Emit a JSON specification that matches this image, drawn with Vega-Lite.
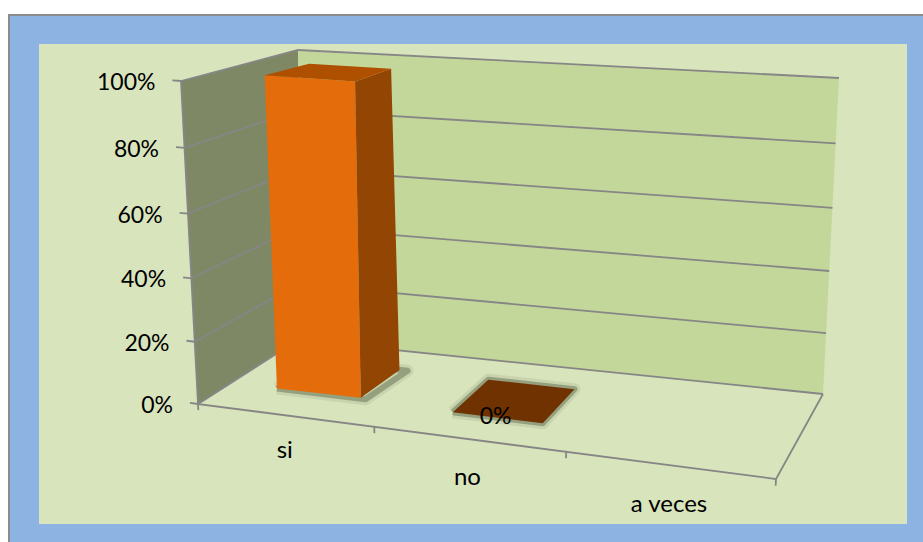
{"$schema":"https://vega.github.io/schema/vega-lite/v6.json","width":914,"height":527,"autosize":"none","padding":{"left":9,"top":15,"right":0,"bottom":0},"background":"#ffffff","view":{"stroke":null},
"data":{"values":[
{"part":"frame"},{"part":"panel"},
{"part":"wall","face":"left","corner":1,"u":0,"d":0,"pct":0},{"part":"wall","face":"left","corner":2,"u":0,"d":1,"pct":0},{"part":"wall","face":"left","corner":3,"u":0,"d":1,"pct":100},{"part":"wall","face":"left","corner":4,"u":0,"d":0,"pct":100},
{"part":"wall","face":"back","corner":1,"u":0,"d":1,"pct":0},{"part":"wall","face":"back","corner":2,"u":1,"d":1,"pct":0},{"part":"wall","face":"back","corner":3,"u":1,"d":1,"pct":100},{"part":"wall","face":"back","corner":4,"u":0,"d":1,"pct":100},
{"part":"grid","face":"g0","corner":1,"u":-0.014,"d":0,"pct":0},{"part":"grid","face":"g0","corner":2,"u":0,"d":0,"pct":0},{"part":"grid","face":"g0","corner":3,"u":0,"d":1,"pct":0},{"part":"grid","face":"g0","corner":4,"u":1,"d":1,"pct":0},
{"part":"grid","face":"g20","corner":1,"u":-0.014,"d":0,"pct":20},{"part":"grid","face":"g20","corner":2,"u":0,"d":0,"pct":20},{"part":"grid","face":"g20","corner":3,"u":0,"d":1,"pct":20},{"part":"grid","face":"g20","corner":4,"u":1,"d":1,"pct":20},
{"part":"grid","face":"g40","corner":1,"u":-0.014,"d":0,"pct":40},{"part":"grid","face":"g40","corner":2,"u":0,"d":0,"pct":40},{"part":"grid","face":"g40","corner":3,"u":0,"d":1,"pct":40},{"part":"grid","face":"g40","corner":4,"u":1,"d":1,"pct":40},
{"part":"grid","face":"g60","corner":1,"u":-0.014,"d":0,"pct":60},{"part":"grid","face":"g60","corner":2,"u":0,"d":0,"pct":60},{"part":"grid","face":"g60","corner":3,"u":0,"d":1,"pct":60},{"part":"grid","face":"g60","corner":4,"u":1,"d":1,"pct":60},
{"part":"grid","face":"g80","corner":1,"u":-0.014,"d":0,"pct":80},{"part":"grid","face":"g80","corner":2,"u":0,"d":0,"pct":80},{"part":"grid","face":"g80","corner":3,"u":0,"d":1,"pct":80},{"part":"grid","face":"g80","corner":4,"u":1,"d":1,"pct":80},
{"part":"grid","face":"g100","corner":1,"u":-0.014,"d":0,"pct":100},{"part":"grid","face":"g100","corner":2,"u":0,"d":0,"pct":100},{"part":"grid","face":"g100","corner":3,"u":0,"d":1,"pct":100},{"part":"grid","face":"g100","corner":4,"u":1,"d":1,"pct":100},
{"part":"grid","face":"edge","corner":1,"u":0,"d":0,"pct":0},{"part":"grid","face":"edge","corner":2,"u":0,"d":0,"pct":100},
{"part":"grid","face":"floor","corner":1,"u":0,"d":0,"pct":-2},{"part":"grid","face":"floor","corner":2,"u":0,"d":0,"pct":0},{"part":"grid","face":"floor","corner":3,"u":0.305,"d":0,"pct":0},{"part":"grid","face":"floor","corner":4,"u":0.305,"d":0,"pct":-2},{"part":"grid","face":"floor","corner":5,"u":0.305,"d":0,"pct":0},{"part":"grid","face":"floor","corner":6,"u":0.637,"d":0,"pct":0},{"part":"grid","face":"floor","corner":7,"u":0.637,"d":0,"pct":-2},{"part":"grid","face":"floor","corner":8,"u":0.637,"d":0,"pct":0},{"part":"grid","face":"floor","corner":9,"u":1,"d":0,"pct":0},{"part":"grid","face":"floor","corner":10,"u":1,"d":0,"pct":-2},{"part":"grid","face":"floor","corner":11,"u":1,"d":0,"pct":0},{"part":"grid","face":"floor","corner":12,"u":1,"d":1,"pct":0},
{"part":"shadow","category":"si","face":"si shadow","corner":1,"u":0.082,"d":0.33,"pct":0},{"part":"shadow","category":"si","face":"si shadow","corner":2,"u":0.24,"d":0.33,"pct":0},{"part":"shadow","category":"si","face":"si shadow","corner":3,"u":0.25,"d":0.75,"pct":0},{"part":"shadow","category":"si","face":"si shadow","corner":4,"u":0.09,"d":0.75,"pct":0},{"part":"shadow","category":"si","face":"si shadow","corner":5,"u":0.082,"d":0.33,"pct":0},
{"part":"shadow","category":"no","face":"no shadow","corner":1,"u":0.4,"d":0.3,"pct":0},{"part":"shadow","category":"no","face":"no shadow","corner":2,"u":0.56,"d":0.3,"pct":0},{"part":"shadow","category":"no","face":"no shadow","corner":3,"u":0.56,"d":0.75,"pct":0},{"part":"shadow","category":"no","face":"no shadow","corner":4,"u":0.4,"d":0.75,"pct":0},{"part":"shadow","category":"no","face":"no shadow","corner":5,"u":0.4,"d":0.3,"pct":0},
{"part":"bar","category":"si","value":100,"face":"si front","corner":1,"u":0.082,"d":0.33,"pct":0},{"part":"bar","category":"si","value":100,"face":"si front","corner":2,"u":0.23,"d":0.34,"pct":0},{"part":"bar","category":"si","value":100,"face":"si front","corner":3,"u":0.235,"d":0.3,"pct":100},{"part":"bar","category":"si","value":100,"face":"si front","corner":4,"u":0.082,"d":0.3,"pct":100},
{"part":"bar","category":"si","value":100,"face":"si side","corner":1,"u":0.23,"d":0.34,"pct":0},{"part":"bar","category":"si","value":100,"face":"si side","corner":2,"u":0.235,"d":0.75,"pct":0},{"part":"bar","category":"si","value":100,"face":"si side","corner":3,"u":0.235,"d":0.66,"pct":100},{"part":"bar","category":"si","value":100,"face":"si side","corner":4,"u":0.235,"d":0.3,"pct":100},
{"part":"bar","category":"si","value":100,"face":"si top","corner":1,"u":0.082,"d":0.3,"pct":100},{"part":"bar","category":"si","value":100,"face":"si top","corner":2,"u":0.235,"d":0.3,"pct":100},{"part":"bar","category":"si","value":100,"face":"si top","corner":3,"u":0.235,"d":0.66,"pct":100},{"part":"bar","category":"si","value":100,"face":"si top","corner":4,"u":0.09,"d":0.66,"pct":100},
{"part":"bar","category":"no","value":0,"face":"no top","corner":1,"u":0.4,"d":0.3,"pct":0},{"part":"bar","category":"no","value":0,"face":"no top","corner":2,"u":0.56,"d":0.3,"pct":0},{"part":"bar","category":"no","value":0,"face":"no top","corner":3,"u":0.56,"d":0.75,"pct":0},{"part":"bar","category":"no","value":0,"face":"no top","corner":4,"u":0.4,"d":0.75,"pct":0},
{"part":"yaxis","label":"0%","u":-0.014,"d":0,"pct":0},{"part":"yaxis","label":"20%","u":-0.014,"d":0,"pct":20},{"part":"yaxis","label":"40%","u":-0.014,"d":0,"pct":40},{"part":"yaxis","label":"60%","u":-0.014,"d":0,"pct":60},{"part":"yaxis","label":"80%","u":-0.014,"d":0,"pct":80},{"part":"yaxis","label":"100%","u":-0.014,"d":0,"pct":100},
{"part":"xaxis","label":"si","u":0.148,"d":0,"pct":-11},{"part":"xaxis","label":"no","u":0.466,"d":0,"pct":-11.5},{"part":"xaxis","label":"a veces","u":0.817,"d":0,"pct":-11.5},
{"part":"datalabel","label":"0%","u":0.476,"d":0.3,"pct":0}
]},
"transform":[
{"calculate":"datum.pct/100-0.045*(datum.pct/100)*(1-datum.pct/100)","as":"h"},
{"calculate":"(1-datum.d)*(198+578*datum.u)+datum.d*(298+525*datum.u)","as":"bx"},
{"calculate":"(1-datum.d)*(404+75*datum.u)+datum.d*(340+54*datum.u)","as":"by"},
{"calculate":"(1-datum.d)*(181+613*datum.u)+datum.d*(298+541*datum.u)","as":"tx"},
{"calculate":"(1-datum.d)*(81+48*datum.u)+datum.d*(50+28*datum.u)","as":"ty"},
{"calculate":"datum.bx+(datum.tx-datum.bx)*datum.h","as":"sx"},
{"calculate":"datum.by+(datum.ty-datum.by)*datum.h","as":"sy"}
],
"encoding":{
"x":{"field":"sx","type":"quantitative","scale":{"domain":[9,923],"zero":false,"nice":false},"axis":null},
"y":{"field":"sy","type":"quantitative","scale":{"domain":[542,15],"zero":false,"nice":false},"axis":null}
},
"layer":[
{"transform":[{"filter":"datum.part=='frame'"}],"mark":{"type":"rect","fill":"#8DB3E2","stroke":"#8C8C8C","strokeWidth":2},"encoding":{"x":{"value":0},"x2":{"value":930},"y":{"value":0},"y2":{"value":540}}},
{"transform":[{"filter":"datum.part=='panel'"}],"mark":{"type":"rect","fill":"#D8E4BC"},"encoding":{"x":{"value":30},"x2":{"value":898},"y":{"value":29},"y2":{"value":509}}},
{"transform":[{"filter":"datum.part=='wall'"}],"mark":{"type":"line","strokeWidth":0},"encoding":{"detail":{"field":"face"},"order":{"field":"corner"},"fill":{"field":"face","type":"nominal","scale":{"domain":["left","back","si front","si side","si top","no top"],"range":["#7E8865","#C4D79B","#E46C0A","#934504","#AE5000","#703200"]},"legend":null}}},
{"transform":[{"filter":"datum.part=='grid'"}],"mark":{"type":"line","stroke":"#868686","strokeWidth":1.8},"encoding":{"detail":{"field":"face"},"order":{"field":"corner"}}},
{"transform":[{"filter":"datum.part=='shadow'"}],"mark":{"type":"line","stroke":"#6E7A5C","strokeWidth":12,"opacity":0.14,"strokeJoin":"round"},"encoding":{"detail":{"field":"face"},"order":{"field":"corner"}}},
{"transform":[{"filter":"datum.part=='shadow'"}],"mark":{"type":"line","stroke":"#5F6B4D","strokeWidth":6,"opacity":0.5,"strokeJoin":"round"},"encoding":{"detail":{"field":"face"},"order":{"field":"corner"}}},
{"transform":[{"filter":"datum.part=='bar'"}],"mark":{"type":"line","strokeWidth":0},"encoding":{"detail":{"field":"face"},"order":{"field":"corner"},"fill":{"field":"face","type":"nominal","scale":{"domain":["left","back","si front","si side","si top","no top"],"range":["#7E8865","#C4D79B","#E46C0A","#934504","#AE5000","#703200"]},"legend":null}}},
{"transform":[{"filter":"datum.part=='yaxis'"}],"mark":{"type":"text","align":"right","baseline":"middle","dx":-17,"dy":3,"font":"Lato","fontSize":23,"fill":"#000000"},"encoding":{"text":{"field":"label"}}},
{"transform":[{"filter":"datum.part=='xaxis'"}],"mark":{"type":"text","align":"center","baseline":"middle","dy":2,"font":"Lato","fontSize":24,"fill":"#000000"},"encoding":{"text":{"field":"label"}}},
{"transform":[{"filter":"datum.part=='datalabel'"}],"mark":{"type":"text","align":"center","baseline":"middle","dy":-1,"font":"Lato","fontSize":23,"fill":"#000000"},"encoding":{"text":{"field":"label"}}}
]}
